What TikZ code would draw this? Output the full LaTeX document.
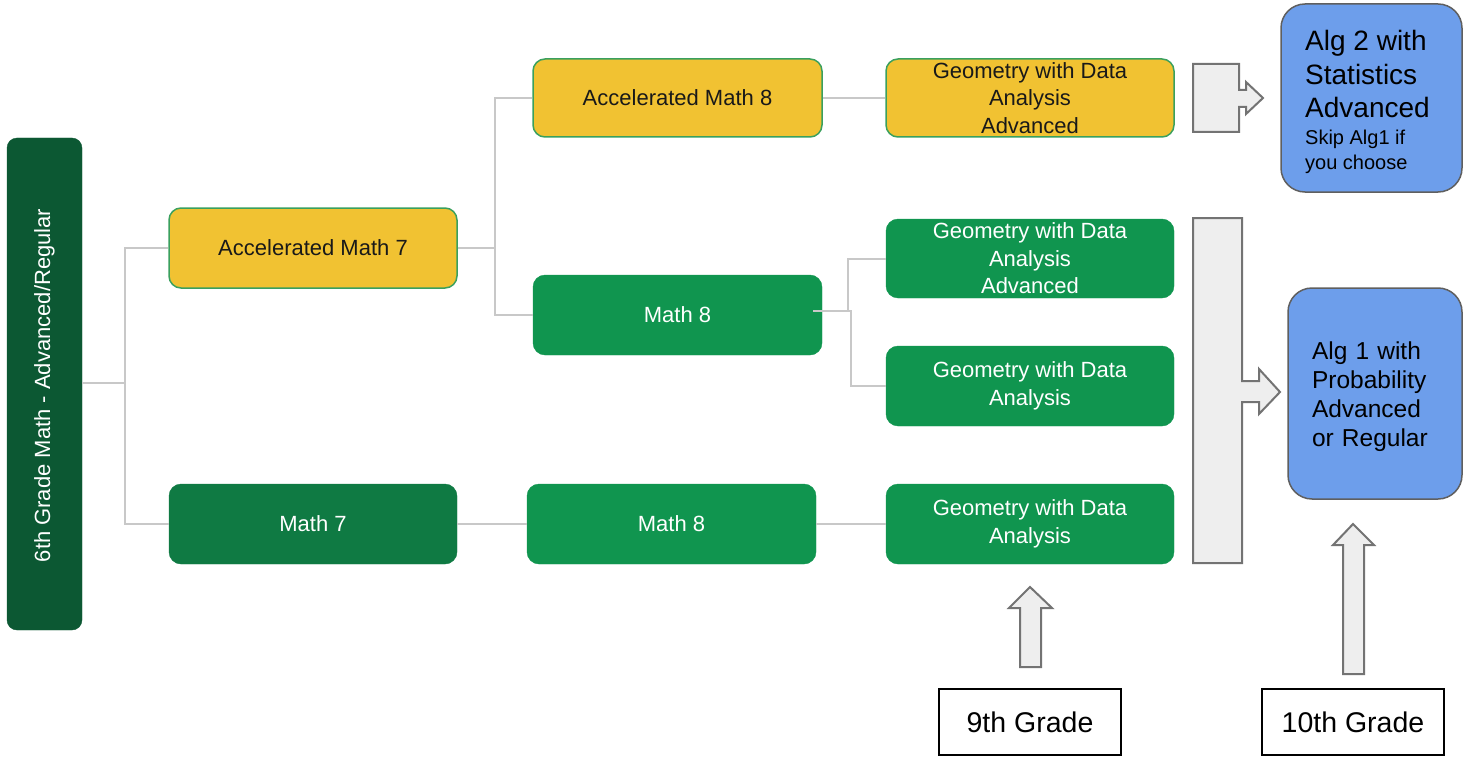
\documentclass[tikz,border=0pt]{standalone}
\usepackage{fontspec}
\setmainfont{Liberation Sans}
\definecolor{dkgreen}{HTML}{0C5833}
\definecolor{mgreen}{HTML}{0F7A43}
\definecolor{lgreen}{HTML}{10954F}
\definecolor{yel}{HTML}{F1C232}
\definecolor{yelborder}{HTML}{3AA05E}
\definecolor{blu}{HTML}{6D9EEB}
\definecolor{bluborder}{HTML}{5F5F5F}
\definecolor{conn}{HTML}{C8C8C8}
\definecolor{arrfill}{HTML}{EEEEEE}
\definecolor{arrdraw}{HTML}{737373}
\begin{document}
\begin{tikzpicture}[x=1pt,y=-1pt,
  course/.style={rounded corners=12pt, inner sep=0pt, align=center,
    font=\fontsize{22}{27.5}\selectfont},
  yelbox/.style={course, fill=yel, draw=yelborder, line width=1.5pt, text=black!90},
  grnbox/.style={course, fill=lgreen, draw=lgreen, text=white},
  blubox/.style={rounded corners=24pt, fill=blu, draw=bluborder, line width=1.5pt, inner sep=0pt},
  bigline/.style={anchor=base west, inner sep=0pt, font=\fontsize{28}{33.5}\selectfont},
  smallline/.style={anchor=base west, inner sep=0pt, font=\fontsize{20}{24}\selectfont},
  gradebox/.style={draw=black, line width=2.5pt, fill=white, inner sep=0pt,
    minimum width=182pt, minimum height=66pt, font=\fontsize{28.5}{34}\selectfont},
  link/.style={draw=conn, line width=2pt},
  blockarrow/.style={fill=arrfill, draw=arrdraw, line width=2pt, line join=miter}
]
\useasboundingbox (0,0) rectangle (1469,757);

% 6th grade
\node[course, fill=dkgreen, draw=dkgreen, text=white, rounded corners=10pt,
  minimum width=75pt, minimum height=492pt] (g6) at (44.5,384) {};
\node[rotate=90, text=white, font=\fontsize{22}{26}\selectfont] (g6t) at (44.5,385.5) {6th Grade Math - Advanced/Regular};

% 7th grade
\node[yelbox, minimum width=288pt, minimum height=80pt] (acc7) at (313,248) {Accelerated Math 7};
\node[course, fill=mgreen, draw=mgreen, text=white, minimum width=288pt, minimum height=80pt] (m7) at (313,524) {Math 7};

% 8th grade
\node[yelbox, minimum width=289pt, minimum height=78pt] (acc8) at (677.5,98) {Accelerated Math 8};
\node[grnbox, minimum width=289pt, minimum height=80pt] (m8a) at (677.5,315) {Math 8};
\node[grnbox, minimum width=289pt, minimum height=80pt] (m8b) at (671.5,524) {Math 8};

% 9th grade
\node[yelbox, minimum width=288pt, minimum height=78pt] (geo1) at (1030,98) {Geometry with Data\\Analysis\\Advanced};
\node[grnbox, minimum width=288pt, minimum height=79pt] (geo2) at (1030,258.5) {Geometry with Data\\Analysis\\Advanced};
\node[grnbox, minimum width=288pt, minimum height=80pt] (geo3) at (1030,386) {Geometry with Data\\Analysis};
\node[grnbox, minimum width=288pt, minimum height=80pt] (geo4) at (1030,524) {Geometry with Data\\Analysis};

% 10th grade
\node[blubox, minimum width=181pt, minimum height=188pt] (alg2) at (1371.5,98) {};
\node[bigline] (alg2a) at (1305,51) {Alg 2 with};
\node[bigline] (alg2b) at (1305,84.5) {Statistics};
\node[bigline] (alg2c) at (1305,118) {Advanced};
\node[smallline] (alg2d) at (1305,145) {Skip Alg1 if};
\node[smallline] (alg2e) at (1305,169) {you choose};

\node[blubox, minimum width=174pt, minimum height=211pt] (alg1) at (1375,393.5) {};
\node[align=left, inner sep=0pt, text width=126pt, font=\fontsize{24.5}{29}\selectfont] (alg1t) at (1375,397)
  {Alg 1 with\\Probability\\Advanced\\or Regular};

% grade labels
\node[gradebox] (gr9) at (1030,722) {9th Grade};
\node[gradebox] (gr10) at (1353,722) {10th Grade};

% connectors
\draw[link] (g6.east |- 0,383) -- (125,383);
\draw[link] (acc7.west) -| (125,383) |- (m7.west);
\draw[link] (acc7.east) -- (495,248);
\draw[link] (acc8.west) -| (495,248) |- (m8a.west);
\draw[link] (acc8.east) -- (geo1.west);
\draw[link] (813,311) -- (848,311) |- (geo2.west);
\draw[link] (848,311) -- (851,311) |- (geo3.west);
\draw[link] (m7.east) -- (m8b.west);
\draw[link] (m8b.east) -- (geo4.west);

% block arrows
\draw[blockarrow] (1193,64) -- (1239,64) -- (1239,90) -- (1246,90) -- (1246,82) -- (1263,98)
  -- (1246,114) -- (1246,107) -- (1239,107) -- (1239,132) -- (1193,132) -- cycle;
\draw[blockarrow] (1193,218) -- (1242,218) -- (1242,381) -- (1259,381) -- (1259,369) -- (1280,392)
  -- (1259,414) -- (1259,402) -- (1242,402) -- (1242,563) -- (1193,563) -- cycle;
\draw[blockarrow] (1020,667) -- (1020,608) -- (1009,608) -- (1030,587) -- (1052,608)
  -- (1041,608) -- (1041,667) -- cycle;
\draw[blockarrow] (1343,674) -- (1343,545) -- (1333,545) -- (1353,524) -- (1374,545)
  -- (1364,545) -- (1364,674) -- cycle;
\end{tikzpicture}
\end{document}
